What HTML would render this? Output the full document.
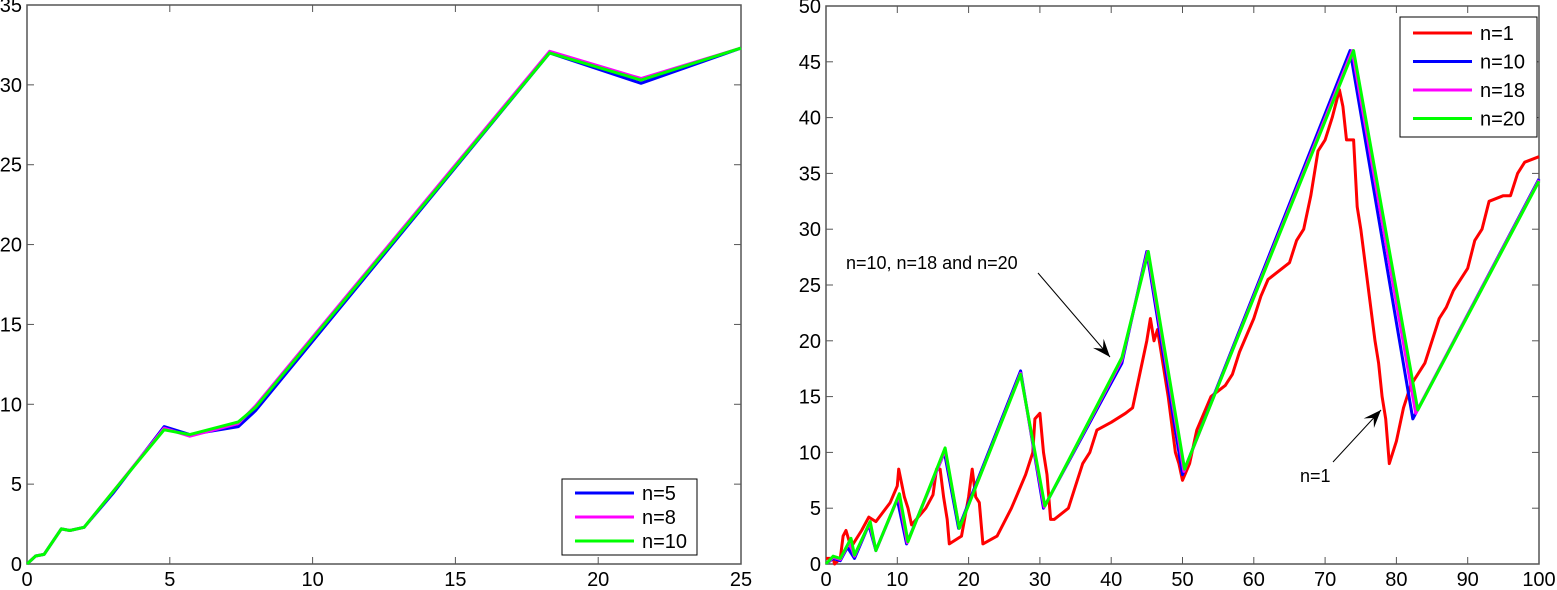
<!DOCTYPE html>
<html><head><meta charset="utf-8"><style>
html,body{margin:0;padding:0;background:#fff;}
svg{display:block;font-family:"Liberation Sans",Arial,sans-serif;}
</style></head><body>
<svg id="chart" width="1557" height="590" viewBox="0 0 1557 590" xmlns="http://www.w3.org/2000/svg"></svg>
<script>
// ---- Left panel data ----
const leftXTicks=[0,5,10,15,20,25];
const leftYTicks=[0,5,10,15,20,25,30,35];
const leftN5=[[0,0],[0.3,0.5],[0.6,0.6],[1.2,2.2],[1.5,2.1],[2,2.3],[3,4.4],[4.8,8.6],[5.7,8.1],[7.4,8.6],[8,9.6],[18.3,32],[21.5,30.1],[25,32.3]];
const leftN8=[[0,0],[0.3,0.5],[0.6,0.6],[1.2,2.2],[1.5,2.1],[2,2.3],[3,4.5],[4.8,8.5],[5.7,8.0],[7.4,8.8],[8,9.9],[18.3,32.1],[21.5,30.4],[25,32.3]];
const leftN10=[[0,0],[0.3,0.5],[0.6,0.6],[1.2,2.2],[1.5,2.1],[2,2.3],[3,4.5],[4.8,8.4],[5.7,8.1],[7.4,8.9],[8,9.8],[18.3,32],[21.5,30.3],[25,32.3]];
// ---- Right panel data ----
const rightXTicks=[0,10,20,30,40,50,60,70,80,90,100];
const rightYTicks=[0,5,10,15,20,25,30,35,40,45,50];
const rightN1=[[0,0.5],[1,0.5],[1.2,0],[2,0.5],[2.4,2.5],[2.8,3],[3.5,1.5],[5,3],[6,4.2],[7,3.8],[9,5.5],[10,7],[10.2,8.5],[11,6],[11.5,5],[12,3.5],[14,5],[15,6.2],[15.5,8.5],[16,8.5],[16.5,6],[17,4],[17.3,1.8],[19,2.5],[20,6],[20.5,8.5],[21,6],[21.5,5.5],[22,1.8],[24,2.5],[26,5],[27,6.5],[28,8],[29,10],[29.3,13],[30,13.5],[30.5,10],[31,8],[31.5,4],[32,4],[34,5],[35,7],[36,9],[37,10],[38,12],[40,12.7],[42,13.5],[43,14],[44,17],[45,20],[45.5,22],[46,20],[46.5,21],[47,19],[48,15],[49,10],[49.5,9],[50,7.5],[51,9],[52,12],[54,15],[56,16],[57,17],[58,19],[60,22],[61,24],[62,25.5],[65,27],[66,29],[67,30],[68,33],[69,37],[70,38],[71,40],[72,42.5],[72.5,41],[73,38],[74,38],[74.5,32],[75,30],[76,25],[77,20],[77.5,18],[78,15],[78.5,13],[79,9],[80,11],[81,14],[82,16],[84,18],[86,22],[87,23],[88,24.5],[90,26.5],[91,29],[92,30],[93,32.5],[95,33],[96,33],[97,35],[98,36],[100,36.5]];
const rightN10=[[0,0],[1,0.5],[2,0.3],[3,1.5],[4,0.5],[6,3.5],[7,1.2],[10,5.8],[11.3,1.8],[16.6,10],[18.6,3.2],[27.3,17.3],[30.5,5],[41.5,18],[45,28],[50,8],[73.5,46],[82.3,13],[100,34.5]];
const rightN18=[[0,0],[1,0.6],[2,0.4],[3.3,2],[4,0.7],[6.1,3.7],[7,1.2],[10.2,6.1],[11.4,1.9],[16.7,10.2],[18.7,3.2],[27.3,17.1],[30.6,5.1],[41.5,18.3],[45.1,28],[50.2,8.3],[73.8,46],[82.7,13.5],[100,34.4]];
const rightN20=[[0,0],[1,0.7],[2,0.5],[3.5,2.3],[4,0.8],[6.2,3.8],[7,1.2],[10.3,6.3],[11.5,2],[16.7,10.4],[18.7,3.2],[27.3,17],[30.7,5.2],[41.5,18.5],[45.2,28],[50.3,8.5],[74,46],[83,13.8],[100,34.3]];

const NS="http://www.w3.org/2000/svg";
const svg=document.getElementById('chart');
function mk(t,a,p){const e=document.createElementNS(NS,t);for(const k in a)e.setAttribute(k,a[k]);(p||svg).appendChild(e);return e;}

function panel(name,x0,x1,y0,y1,xmax,ymax,xt,yt){
  const g=mk('g',{});
  
  
  const sx=v=>x0+(x1-x0)*v/xmax, sy=v=>y1-(y1-y0)*v/ymax;
  mk('rect',{x:x0,y:y0,width:x1-x0,height:y1-y0,fill:'#fff',stroke:'#555','stroke-width':1.5},g);
  xt.forEach(v=>{const x=sx(v);
    mk('line',{x1:x,x2:x,y1:y1,y2:y1-7,stroke:'#555'},g);
    mk('line',{x1:x,x2:x,y1:y0,y2:y0+7,stroke:'#555'},g);
    const t=mk('text',{x:x,y:y1+22,'text-anchor':'middle','font-size':20,fill:'#000'},g);t.textContent=v;
    
    });
  yt.forEach(v=>{const y=sy(v);
    mk('line',{x1:x0,x2:x0+7,y1:y,y2:y,stroke:'#555'},g);
    mk('line',{x1:x1,x2:x1-7,y1:y,y2:y,stroke:'#555'},g);
    const t=mk('text',{x:x0-5,y:y+7,'text-anchor':'end','font-size':20,fill:'#000'},g);t.textContent=v;
    
    });
  return {g,sx,sy};
}
function series(p,data,color,name){
  const d=data.map((q,i)=>(i?'L':'M')+p.sx(q[0]).toFixed(1)+' '+p.sy(q[1]).toFixed(1)).join(' ');
  const e=mk('path',{d:d,fill:'none',stroke:color,'stroke-width':3,'stroke-linejoin':'round'},p.g);
  
  
}
function legend(p,x,y,w,h,first,step,items){
  const lg=mk('g',{},p.g);
  
  
  mk('rect',{x:x,y:y,width:w,height:h,fill:'#fff',stroke:'#000','stroke-width':1},lg);
  items.forEach((it,i)=>{const yy=y+first+i*step;
    const e=mk('g',{},lg);
    
    
    mk('line',{x1:x+13,x2:x+72,y1:yy,y2:yy,stroke:it[1],'stroke-width':3},e);
    const t=mk('text',{x:x+80,y:yy+7,'font-size':20},e);t.textContent=it[0];});
}
const L=panel('left-plot',27,741,5,564,25,35,leftXTicks,leftYTicks);
series(L,leftN5,'#0000ff','series-n5');
series(L,leftN8,'#ff00ff','series-n8');
series(L,leftN10,'#00ff00','series-n10');
legend(L,562,479,135,76,14,24,[['n=5','#0000ff'],['n=8','#ff00ff'],['n=10','#00ff00']]);

const R=panel('right-plot',826,1539,6,564,100,50,rightXTicks,rightYTicks);
series(R,rightN1,'#ff0000','series-n1');
series(R,rightN10,'#0000ff','series-n10');
series(R,rightN18,'#ff00ff','series-n18');
series(R,rightN20,'#00ff00','series-n20');
legend(R,1400,17,137,120,16,28.5,[['n=1','#ff0000'],['n=10','#0000ff'],['n=18','#ff00ff'],['n=20','#00ff00']]);

function arrow(xa,ya,xb,yb,name){
  const g=mk('g',{},R.g);
  
  
  mk('line',{x1:xa,y1:ya,x2:xb,y2:yb,stroke:'#000','stroke-width':1},g);
  const ang=Math.atan2(yb-ya,xb-xa),L=18,W=7;
  const bx=xb-L*Math.cos(ang),by=yb-L*Math.sin(ang);
  const nx=-Math.sin(ang)*W,ny=Math.cos(ang)*W;
  const mx=xb-L*0.6*Math.cos(ang),my=yb-L*0.6*Math.sin(ang);
  mk('path',{d:`M${xb} ${yb} L${bx+nx} ${by+ny} L${mx} ${my} L${bx-nx} ${by-ny} Z`,fill:'#000'},g);
}
arrow(1038,273,1110,357,'annotation-arrow-n10-18-20');
arrow(1333,462,1381,410,'annotation-arrow-n1');
let t=mk('text',{x:846,y:269,'font-size':18},R.g);t.textContent='n=10, n=18 and n=20';


t=mk('text',{x:1300,y:482,'font-size':18},R.g);t.textContent='n=1';


</script>
</body></html>
